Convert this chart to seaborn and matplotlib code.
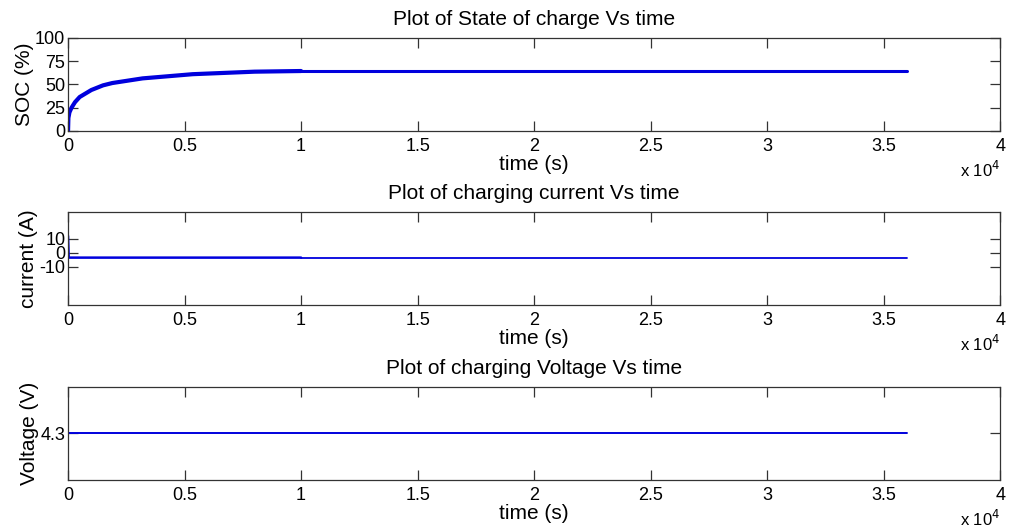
import matplotlib
matplotlib.use("Agg")
import pandas as pd
import seaborn as sns
import matplotlib.pyplot as plt
from matplotlib.ticker import FuncFormatter

# 数据
soc_time = [0, 15, 60, 150, 300, 500, 800, 1000, 1500, 1900, 3200, 5350, 8000, 10000]
soc_vals = [0, 14, 20, 25, 31, 36.5, 41, 44, 49, 51.5, 56.5, 61, 63.7, 64.4]
soc_time2 = [10000, 36000]
soc_vals2 = [64.4, 64.4]

cur_time = [0, 30, 10000]
cur_vals = [12, -3.4, -3.4]
cur_time2 = [10000, 36000]
cur_vals2 = [-3.7, -3.7]

volt_time = [0, 36000]
volt_vals = [4.3, 4.3]

x_ticks = [0, 5000, 10000, 15000, 20000, 25000, 30000, 35000, 40000]
soc_ticks = [0, 25, 50, 75, 100]
cur_ticks = [-10, 0, 10]
volt_ticks = [4.3]

sns.set_theme(style="ticks")
plt.rcParams['font.family'] = ['Liberation Sans', 'DejaVu Sans']
plt.rcParams['axes.unicode_minus'] = False
plt.rcParams['text.color'] = 'black'
plt.rcParams['axes.labelcolor'] = 'black'
plt.rcParams['xtick.color'] = '#333333'
plt.rcParams['ytick.color'] = '#333333'
plt.rcParams['xtick.labelcolor'] = 'black'
plt.rcParams['ytick.labelcolor'] = 'black'
plt.rcParams['xtick.direction'] = 'in'
plt.rcParams['ytick.direction'] = 'in'
plt.rcParams['xtick.major.size'] = 7
plt.rcParams['ytick.major.size'] = 7
plt.rcParams['axes.edgecolor'] = '#333333'
plt.rcParams['axes.linewidth'] = 0.9

fig = plt.figure(figsize=(10.11, 5.29), dpi=100)
left, width, h = 0.0673, 0.922, 0.176
ax1 = fig.add_axes([left, 0.7524, width, h])
ax2 = fig.add_axes([left, 0.4234, width, h])
ax3 = fig.add_axes([left, 0.0926, width, h])

blue = '#0000dd'
sns.lineplot(x=soc_time, y=soc_vals, ax=ax1, color=blue, linewidth=3)
sns.lineplot(x=soc_time2, y=soc_vals2, ax=ax1, color=blue, linewidth=2.2)
sns.lineplot(x=cur_time, y=cur_vals, ax=ax2, color=blue, linewidth=1.8)
sns.lineplot(x=cur_time2, y=cur_vals2, ax=ax2, color=blue, linewidth=1.3)
sns.lineplot(x=volt_time, y=volt_vals, ax=ax3, color=blue, linewidth=1.4)

fmt = FuncFormatter(lambda v, p: f"{v / 1e4:g}")
fs = 13
for ax, title, ylab, yt in [
    (ax1, "Plot of State of charge Vs time", "SOC (%)", soc_ticks),
    (ax2, "Plot of charging current Vs time", "current (A)", cur_ticks),
    (ax3, "Plot of charging Voltage Vs time", "Voltage (V)", volt_ticks),
]:
    ax.set_xlim(0, 40000)
    ax.set_xticks(x_ticks)
    ax.xaxis.set_major_formatter(fmt)
    ax.set_yticks(yt)
    ax.tick_params(axis='x', top=True, labelsize=fs, pad=5, width=0.9)
    ax.tick_params(axis='y', right=True, labelsize=fs, pad=2, width=0.9)
    ax.set_title(title, fontsize=15, pad=9)
    ax.set_xlabel("time (s)", fontsize=15, labelpad=0)
    ax.set_ylabel(ylab, fontsize=15, labelpad=1)
    ax.text(1.0, -0.31, r"x 10$^4$", transform=ax.transAxes, ha='right', va='top', fontsize=12)
    for s in ax.spines.values():
        s.set_visible(True)

ax1.set_ylim(0, 100)
ax2.set_ylim(-37, 29)
ax3.set_ylim(4.2, 4.4)

plt.savefig("out.png", dpi=100)
